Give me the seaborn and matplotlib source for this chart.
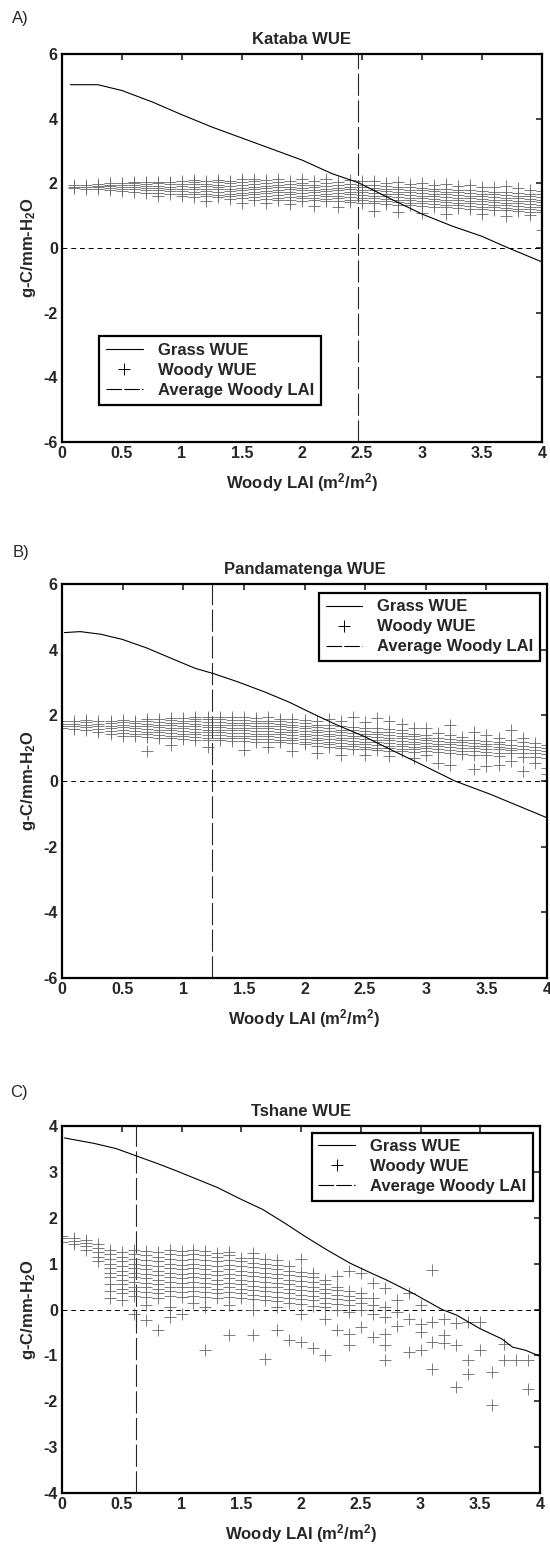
#importing libraries
import matplotlib
matplotlib.use("Agg")
import matplotlib.pyplot as plt
from matplotlib.lines import Line2D
import pandas as pd
import seaborn as sns

#grass WUE curves
a_grass_x = [0.07, 0.3, 0.5, 0.75, 1.0, 1.25, 1.5, 1.75, 2.0, 2.25, 2.47, 2.75, 3.0, 3.25, 3.5, 3.72, 4.0]
a_grass_y = [5.05, 5.05, 4.87, 4.52, 4.12, 3.74, 3.40, 3.06, 2.72, 2.30, 2.02, 1.50, 1.05, 0.68, 0.36, 0.0, -0.43]
b_grass_x = [0.02, 0.15, 0.32, 0.5, 0.7, 0.93, 1.1, 1.25, 1.45, 1.68, 1.88, 2.08, 2.26, 2.49, 2.72, 2.95, 3.24, 3.53, 4.0]
b_grass_y = [4.52, 4.55, 4.47, 4.31, 4.05, 3.69, 3.43, 3.27, 3.02, 2.70, 2.39, 2.03, 1.72, 1.36, 0.94, 0.53, 0.0, -0.40, -1.12]
c_grass_x = [0.02, 0.27, 0.45, 0.62, 0.8, 0.95, 1.12, 1.3, 1.5, 1.68, 1.86, 2.03, 2.21, 2.41, 2.59, 2.71, 2.94, 3.18, 3.3, 3.5, 3.68, 3.77, 3.88, 4.0]
c_grass_y = [3.74, 3.62, 3.51, 3.35, 3.18, 3.03, 2.85, 2.66, 2.40, 2.18, 1.89, 1.60, 1.31, 1.01, 0.79, 0.65, 0.35, 0.0, -0.12, -0.42, -0.64, -0.82, -0.89, -1.02]

#average woody LAI
a_avg_lai = 2.47
b_avg_lai = 1.24
c_avg_lai = 0.62

#woody WUE, read column by column (LAI, WUE values)
a_woody = [
    (0.1, [1.85, 1.90, 1.94]),
    (0.2, [1.84, 1.89, 1.94]),
    (0.3, [1.83, 1.88, 1.93, 1.97]),
    (0.4, [1.80, 1.86, 1.91, 1.96, 2.00]),
    (0.5, [1.76, 1.83, 1.89, 1.95, 2.01]),
    (0.6, [1.74, 1.81, 1.88, 1.94, 2.00, 2.03]),
    (0.7, [1.70, 1.78, 1.85, 1.92, 1.98, 2.04]),
    (0.8, [1.62, 1.71, 1.79, 1.86, 1.93, 2.00, 2.05]),
    (0.9, [1.67, 1.75, 1.83, 1.90, 1.97, 2.04]),
    (1.0, [1.60, 1.68, 1.76, 1.84, 1.91, 1.98, 2.06]),
    (1.1, [1.58, 1.66, 1.74, 1.82, 1.90, 1.97, 2.05, 2.10]),
    (1.2, [1.45, 1.60, 1.68, 1.76, 1.84, 1.92, 1.99, 2.07]),
    (1.3, [1.57, 1.65, 1.73, 1.81, 1.89, 1.96, 2.04, 2.11]),
    (1.4, [1.52, 1.60, 1.68, 1.76, 1.84, 1.92, 2.00, 2.08]),
    (1.5, [1.40, 1.55, 1.63, 1.71, 1.79, 1.87, 1.95, 2.03, 2.12]),
    (1.6, [1.50, 1.58, 1.66, 1.74, 1.82, 1.90, 1.98, 2.06, 2.14]),
    (1.7, [1.38, 1.53, 1.61, 1.69, 1.77, 1.85, 1.93, 2.01, 2.10]),
    (1.8, [1.48, 1.56, 1.64, 1.72, 1.80, 1.88, 1.96, 2.04, 2.14]),
    (1.9, [1.35, 1.50, 1.58, 1.66, 1.74, 1.82, 1.90, 1.98, 2.08]),
    (2.0, [1.46, 1.54, 1.62, 1.70, 1.78, 1.86, 1.94, 2.02, 2.12]),
    (2.1, [1.30, 1.48, 1.56, 1.64, 1.72, 1.80, 1.88, 1.96, 2.06]),
    (2.2, [1.44, 1.52, 1.60, 1.68, 1.76, 1.84, 1.92, 2.00, 2.12]),
    (2.3, [1.28, 1.46, 1.54, 1.62, 1.70, 1.78, 1.86, 1.94, 2.04]),
    (2.4, [1.42, 1.50, 1.58, 1.66, 1.74, 1.82, 1.90, 1.98, 2.10]),
    (2.5, [1.40, 1.48, 1.56, 1.64, 1.72, 1.80, 1.88, 1.96, 2.06]),
    (2.6, [1.15, 1.38, 1.46, 1.54, 1.62, 1.70, 1.78, 1.86, 1.94, 2.08]),
    (2.7, [1.36, 1.44, 1.52, 1.60, 1.68, 1.76, 1.84, 1.92, 2.02]),
    (2.8, [1.10, 1.34, 1.42, 1.50, 1.58, 1.66, 1.74, 1.82, 1.90, 2.04]),
    (2.9, [1.32, 1.40, 1.48, 1.56, 1.64, 1.72, 1.80, 1.88, 1.98]),
    (3.0, [1.08, 1.30, 1.38, 1.46, 1.54, 1.62, 1.70, 1.78, 1.86, 2.02]),
    (3.1, [1.28, 1.36, 1.44, 1.52, 1.60, 1.68, 1.76, 1.84, 1.95]),
    (3.2, [1.05, 1.26, 1.34, 1.42, 1.50, 1.58, 1.66, 1.74, 1.82, 1.98]),
    (3.3, [1.24, 1.32, 1.40, 1.48, 1.56, 1.64, 1.72, 1.80, 1.92]),
    (3.4, [1.22, 1.30, 1.38, 1.46, 1.54, 1.62, 1.70, 1.78, 1.96]),
    (3.5, [1.04, 1.20, 1.28, 1.36, 1.44, 1.52, 1.60, 1.68, 1.76, 1.90]),
    (3.6, [1.18, 1.26, 1.34, 1.42, 1.50, 1.58, 1.66, 1.74, 1.88]),
    (3.7, [1.00, 1.16, 1.24, 1.32, 1.40, 1.48, 1.56, 1.64, 1.72, 1.92]),
    (3.8, [1.14, 1.22, 1.30, 1.38, 1.46, 1.54, 1.62, 1.70, 1.85]),
    (3.9, [1.02, 1.12, 1.20, 1.28, 1.36, 1.44, 1.52, 1.60, 1.68, 1.80]),
    (4.0, [0.55, 1.10, 1.18, 1.26, 1.34, 1.42, 1.50, 1.58, 1.66, 1.75]),
]
b_woody = [
    (0.0, [1.60, 1.68, 1.75, 1.82]),
    (0.1, [1.58, 1.66, 1.74, 1.82]),
    (0.2, [1.56, 1.64, 1.72, 1.80, 1.86]),
    (0.3, [1.50, 1.58, 1.66, 1.74, 1.82]),
    (0.4, [1.42, 1.52, 1.60, 1.68, 1.76, 1.84]),
    (0.5, [1.38, 1.47, 1.55, 1.63, 1.71, 1.79, 1.87]),
    (0.6, [1.36, 1.44, 1.52, 1.60, 1.68, 1.76, 1.84]),
    (0.7, [0.92, 1.34, 1.42, 1.50, 1.58, 1.66, 1.74, 1.82, 1.90]),
    (0.8, [1.32, 1.40, 1.48, 1.56, 1.64, 1.72, 1.80, 1.88]),
    (0.9, [1.10, 1.30, 1.38, 1.46, 1.54, 1.62, 1.70, 1.78, 1.86, 1.92]),
    (1.0, [1.28, 1.36, 1.44, 1.52, 1.60, 1.68, 1.76, 1.84, 1.92]),
    (1.1, [1.26, 1.34, 1.42, 1.50, 1.58, 1.66, 1.74, 1.82, 1.90, 1.96]),
    (1.2, [1.05, 1.24, 1.32, 1.40, 1.48, 1.56, 1.64, 1.72, 1.80, 1.88, 1.96]),
    (1.3, [1.24, 1.32, 1.40, 1.48, 1.56, 1.64, 1.72, 1.80, 1.88, 1.96]),
    (1.4, [1.22, 1.30, 1.38, 1.46, 1.54, 1.62, 1.70, 1.78, 1.86, 1.94]),
    (1.5, [0.95, 1.22, 1.30, 1.38, 1.46, 1.54, 1.62, 1.70, 1.78, 1.86, 1.94]),
    (1.6, [1.20, 1.28, 1.36, 1.44, 1.52, 1.60, 1.68, 1.76, 1.84, 1.92]),
    (1.7, [1.05, 1.20, 1.28, 1.36, 1.44, 1.52, 1.60, 1.68, 1.76, 1.84, 1.94]),
    (1.8, [1.18, 1.26, 1.34, 1.42, 1.50, 1.58, 1.66, 1.74, 1.82, 1.90]),
    (1.9, [0.90, 1.16, 1.24, 1.32, 1.40, 1.48, 1.56, 1.64, 1.72, 1.80, 1.90]),
    (2.0, [1.12, 1.20, 1.28, 1.36, 1.44, 1.52, 1.60, 1.68, 1.76, 1.86]),
    (2.1, [0.85, 1.08, 1.16, 1.24, 1.32, 1.40, 1.48, 1.56, 1.64, 1.72, 1.84]),
    (2.2, [1.04, 1.12, 1.20, 1.28, 1.36, 1.44, 1.52, 1.60, 1.70, 1.90]),
    (2.3, [0.80, 1.00, 1.08, 1.16, 1.24, 1.32, 1.40, 1.48, 1.56, 1.66, 1.82]),
    (2.4, [0.98, 1.06, 1.14, 1.22, 1.30, 1.38, 1.46, 1.54, 1.64, 1.95]),
    (2.5, [0.78, 0.96, 1.04, 1.12, 1.20, 1.28, 1.36, 1.44, 1.52, 1.62, 1.80]),
    (2.6, [0.94, 1.02, 1.10, 1.18, 1.26, 1.34, 1.42, 1.50, 1.60, 1.92]),
    (2.7, [0.75, 0.92, 1.00, 1.08, 1.16, 1.24, 1.32, 1.40, 1.48, 1.58, 1.84]),
    (2.8, [0.90, 0.98, 1.06, 1.14, 1.22, 1.30, 1.38, 1.46, 1.56, 1.75]),
    (2.9, [0.70, 0.88, 0.96, 1.04, 1.12, 1.20, 1.28, 1.36, 1.44, 1.60]),
    (3.0, [0.80, 0.90, 1.00, 1.08, 1.16, 1.24, 1.32, 1.40, 1.62]),
    (3.1, [0.55, 0.88, 0.98, 1.06, 1.14, 1.22, 1.30, 1.45]),
    (3.2, [0.48, 0.85, 0.95, 1.04, 1.12, 1.20, 1.28, 1.40, 1.70]),
    (3.3, [0.82, 0.92, 1.02, 1.10, 1.18, 1.26, 1.35]),
    (3.4, [0.38, 0.80, 0.90, 1.00, 1.08, 1.16, 1.24, 1.48]),
    (3.5, [0.45, 0.78, 0.88, 0.98, 1.06, 1.14, 1.22, 1.40]),
    (3.6, [0.50, 0.76, 0.86, 0.96, 1.04, 1.12, 1.20, 1.30]),
    (3.7, [0.62, 0.84, 0.94, 1.02, 1.10, 1.25, 1.55]),
    (3.8, [0.30, 0.74, 0.86, 0.96, 1.06, 1.20, 1.32]),
    (3.9, [0.55, 0.72, 0.84, 0.94, 1.04, 1.15]),
    (4.0, [0.20, 0.40, 0.70, 0.82, 0.92, 1.00, 1.10]),
]
c_woody = [
    (0.0, [1.48, 1.55, 1.60]),
    (0.1, [1.42, 1.50, 1.56]),
    (0.2, [1.30, 1.38, 1.46, 1.52]),
    (0.3, [1.05, 1.15, 1.25, 1.35, 1.42]),
    (0.4, [0.25, 0.40, 0.55, 0.70, 0.80, 0.90, 1.00, 1.10, 1.20, 1.30]),
    (0.5, [0.20, 0.35, 0.45, 0.55, 0.65, 0.75, 0.85, 0.95, 1.05, 1.15, 1.25]),
    (0.6, [-0.09, 0.30, 0.40, 0.50, 0.60, 0.70, 0.80, 0.90, 1.00, 1.10, 1.20, 1.30]),
    (0.7, [-0.23, 0.10, 0.28, 0.38, 0.48, 0.58, 0.68, 0.78, 0.88, 0.98, 1.08, 1.18, 1.28]),
    (0.8, [-0.45, 0.25, 0.35, 0.45, 0.55, 0.65, 0.75, 0.85, 0.95, 1.05, 1.15, 1.25]),
    (0.9, [-0.16, 0.05, 0.30, 0.40, 0.50, 0.60, 0.70, 0.80, 0.90, 1.00, 1.10, 1.20, 1.30]),
    (1.0, [-0.09, 0.28, 0.38, 0.48, 0.58, 0.68, 0.78, 0.88, 0.98, 1.08, 1.18, 1.28]),
    (1.1, [0.15, 0.30, 0.40, 0.50, 0.60, 0.70, 0.80, 0.90, 1.00, 1.10, 1.20, 1.30]),
    (1.2, [-0.89, 0.05, 0.28, 0.38, 0.48, 0.58, 0.68, 0.78, 0.88, 0.98, 1.08, 1.18, 1.28]),
    (1.3, [0.25, 0.35, 0.45, 0.55, 0.65, 0.75, 0.85, 0.95, 1.05, 1.15, 1.24]),
    (1.4, [-0.56, 0.10, 0.28, 0.38, 0.48, 0.58, 0.68, 0.78, 0.88, 0.98, 1.08, 1.18, 1.25]),
    (1.5, [0.25, 0.35, 0.45, 0.55, 0.65, 0.75, 0.85, 0.95, 1.05, 1.12]),
    (1.6, [-0.56, 0.00, 0.22, 0.32, 0.42, 0.52, 0.62, 0.72, 0.82, 0.92, 1.02, 1.12, 1.24]),
    (1.7, [-1.07, 0.20, 0.30, 0.40, 0.50, 0.60, 0.70, 0.80, 0.90, 1.00, 1.10]),
    (1.8, [-0.45, 0.05, 0.18, 0.28, 0.38, 0.48, 0.58, 0.68, 0.78, 0.88, 0.98, 1.08]),
    (1.9, [-0.67, 0.15, 0.25, 0.35, 0.45, 0.55, 0.65, 0.75, 0.85, 0.95]),
    (2.0, [-0.71, -0.10, 0.12, 0.22, 0.32, 0.42, 0.52, 0.62, 0.72, 0.82, 1.09]),
    (2.1, [-0.85, 0.08, 0.20, 0.30, 0.40, 0.50, 0.60, 0.70, 0.79]),
    (2.2, [-1.00, -0.20, 0.05, 0.15, 0.25, 0.35, 0.45, 0.55, 0.65]),
    (2.3, [-0.45, 0.00, 0.12, 0.22, 0.32, 0.42, 0.50, 0.72]),
    (2.4, [-0.78, -0.53, -0.05, 0.10, 0.20, 0.30, 0.40, 0.83]),
    (2.5, [-0.38, 0.00, 0.15, 0.25, 0.35, 0.79]),
    (2.6, [-0.60, -0.10, 0.10, 0.25, 0.57]),
    (2.7, [-1.11, -0.78, -0.53, -0.16, 0.05, 0.46]),
    (2.8, [-0.35, -0.05, 0.20]),
    (2.9, [-0.93, -0.20, 0.35]),
    (3.0, [-0.89, -0.50, -0.31, 0.10]),
    (3.1, [-1.29, -0.71, -0.27, 0.87]),
    (3.2, [-0.74, -0.56, -0.20]),
    (3.3, [-1.69, -0.78, -0.30]),
    (3.4, [-1.40, -1.11, -0.27]),
    (3.5, [-0.89, -0.27]),
    (3.6, [-2.09, -1.36]),
    (3.7, [-1.11, -0.75]),
    (3.8, [-1.11]),
    (3.9, [-1.73, -1.11]),
]

#axis settings
x_ticks = [0, 0.5, 1, 1.5, 2, 2.5, 3, 3.5, 4]
x_ticklabels = ["0", "0.5", "1", "1.5", "2", "2.5", "3", "3.5", "4"]
ab_yticks = [-6, -4, -2, 0, 2, 4, 6]
c_yticks = [-4, -3, -2, -1, 0, 1, 2, 3, 4]
titles = ["Kataba WUE", "Pandamatenga WUE", "Tshane WUE"]
panel_tags = ["A)", "B)", "C)"]

sns.set_style("white")
plt.rcParams["font.family"] = ["Liberation Sans", "DejaVu Sans"]
plt.rcParams["axes.unicode_minus"] = False
plt.rcParams["mathtext.fontset"] = "custom"
plt.rcParams["mathtext.rm"] = "Liberation Sans:bold"
plt.rcParams["mathtext.bf"] = "Liberation Sans:bold"
plt.rcParams["mathtext.it"] = "Liberation Sans:bold"

fig = plt.figure(figsize=(5.5, 15.44), dpi=100)
# axes boxes in figure fractions [left, bottom, width, height]
boxes = [
    [62 / 550, 1 - 442 / 1544, 480 / 550, 388 / 1544],
    [62 / 550, 1 - 978 / 1544, 485 / 550, 394 / 1544],
    [62 / 550, 1 - 1493 / 1544, 478 / 550, 367 / 1544],
]
tag_pos = [(20, 19), (21, 553), (19, 1093)]
legend_anchor = [("lower left", (0.078, 0.096)), ("upper right", (0.986, 0.978)), ("upper right", (0.985, 0.982))]

panels = [
    (a_grass_x, a_grass_y, a_woody, a_avg_lai, ab_yticks),
    (b_grass_x, b_grass_y, b_woody, b_avg_lai, ab_yticks),
    (c_grass_x, c_grass_y, c_woody, c_avg_lai, c_yticks),
]

for i, (gx, gy, woody, avg, yt) in enumerate(panels):
    ax = fig.add_axes(boxes[i])
    wx = [col[0] for col in woody for _ in col[1]]
    wy = [v for col in woody for v in col[1]]
    wdf = pd.DataFrame({"lai": wx, "wue": wy})
    gdf = pd.DataFrame({"lai": gx, "wue": gy})

    sns.scatterplot(data=wdf, x="lai", y="wue", marker="+", s=70, color="0.4",
                    linewidth=0.6, ax=ax, legend=False, zorder=2)
    sns.lineplot(data=gdf, x="lai", y="wue", color="black", linewidth=0.8,
                 ax=ax, legend=False, zorder=3, sort=False)
    ax.axhline(0, color="black", linestyle=(0, (5, 4)), linewidth=0.7, zorder=1)
    ax.axvline(avg, color="0.15", linestyle=(0, (20, 4)), linewidth=0.8, zorder=1)

    ax.set_xlim(0, 4)
    ax.set_ylim(yt[0], yt[-1])
    ax.set_xticks(x_ticks)
    ax.set_xticklabels(x_ticklabels)
    ax.set_yticks(yt)
    ax.tick_params(direction="in", top=True, right=True, length=4, width=1.2,
                   labelsize=11.5, pad=3)
    for lab in ax.get_xticklabels() + ax.get_yticklabels():
        lab.set_fontweight("bold")
    for sp in ax.spines.values():
        sp.set_linewidth(1.6)
        sp.set_color("black")

    ax.set_title(titles[i], fontsize=12, fontweight="bold", pad=7)
    ax.set_xlabel("Woody LAI (m$^2$/m$^2$)", fontsize=12, fontweight="bold", labelpad=7)
    ax.set_ylabel("g-C/mm-H$_2$O", fontsize=12, fontweight="bold", labelpad=4)

    handles = [
        Line2D([], [], color="black", linewidth=0.8),
        Line2D([], [], color="black", linestyle="none", marker="+", markersize=8, markeredgewidth=0.7),
        Line2D([], [], color="black", linewidth=0.8, linestyle=(0, (14, 2))),
    ]
    loc, anchor = legend_anchor[i]
    leg = ax.legend(handles, ["Grass WUE", "Woody WUE", "Average Woody LAI"],
                    loc=loc, bbox_to_anchor=anchor, frameon=True, fancybox=False,
                    edgecolor="black", framealpha=1, borderpad=0.4, labelspacing=0.3,
                    handlelength=2.2, handletextpad=0.9, borderaxespad=0,
                    prop={"weight": "bold", "size": 12})
    leg.get_frame().set_linewidth(1.6)
    leg.set_zorder(5)

    fig.text(tag_pos[i][0] / 550, 1 - tag_pos[i][1] / 1544, panel_tags[i],
             fontsize=12, ha="center", va="center")

plt.savefig("out.png", dpi=100)
